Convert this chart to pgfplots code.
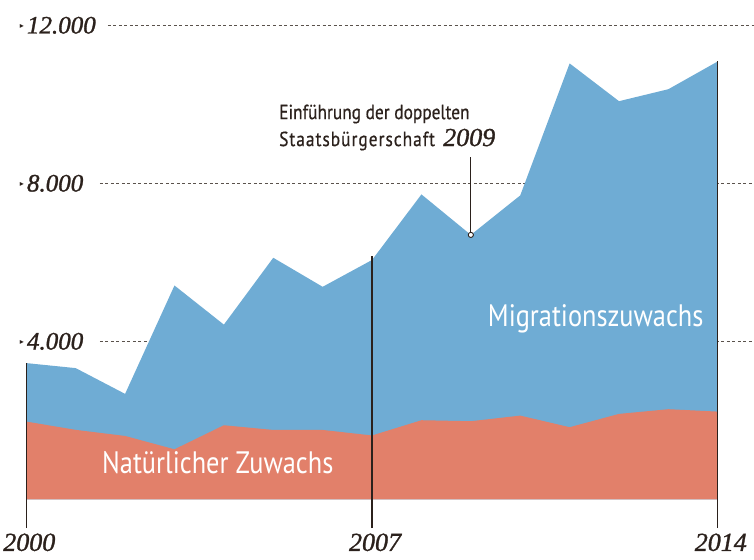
\documentclass[border=0pt]{standalone}
\usepackage{fontspec}
\usepackage{pgfplots}
\pgfplotsset{compat=1.18}
\usepackage{pgfplotstable}
\setmainfont{Liberation Serif}
\newfontfamily\labfont[FakeStretch=0.85]{PT Sans}
\newfontfamily\annfont[FakeStretch=0.85,FakeBold=0.6]{PT Sans}
\newfontfamily\annfontB[FakeStretch=0.85,FakeBold=0.6,LetterSpace=5]{PT Sans}
\newfontfamily\numfont[FakeBold=1.2]{Liberation Serif}
\newfontfamily\symfont{DejaVu Sans}
\definecolor{migblue}{RGB}{111,172,212}
\definecolor{natred}{RGB}{226,128,106}
\definecolor{txt}{RGB}{43,33,28}
\definecolor{gridc}{RGB}{90,82,76}
\newcommand{\tri}{{\symfont\fontsize{8}{8}\selectfont\raisebox{5pt}{▸}}\hspace{3pt}}

\pgfplotstableread{
year nat mig
2000 1970 1480
2001 1760 1563
2002 1606 1065
2003 1268 4146
2004 1877 2547
2005 1758 4358
2006 1758 3623
2007 1618 4442
2008 2004 5716
2009 1979 4716
2010 2121 5573
2011 1827 9208
2012 2164 7915
2013 2283 8100
2014 2222 8864
}\data

\begin{document}
\begin{tikzpicture}[x=1pt,y=1pt]
\path[use as bounding box] (0,0) rectangle (754,559);
\begin{axis}[
  at={(26.3pt,59.6pt)}, anchor=south west,
  scale only axis, width=727.7pt, height=474.1pt,
  xmin=2000, xmax=2014.733, ymin=0, ymax=12000,
  clip=false,
  scaled y ticks=false, scaled x ticks=false,
  axis line style={draw=none},
  major tick length=0pt,
  xtick={2000,2007,2014}, xticklabels={2000,2007,2014},
  ytick={4000,8000,12000}, yticklabels={{\tri4.000},{\tri8.000},{\tri12.000}},
  xticklabel style={font=\numfont\itshape\fontsize{26}{26}\selectfont, anchor=north, inner sep=0pt, yshift=-34pt, xshift=3pt, text=txt},
  yticklabel style={font=\numfont\itshape\fontsize{25}{25}\selectfont, anchor=west, inner sep=0pt, xshift=-6.5pt, text=txt},
]
% grid lines (behind areas)
\addplot[gridc, line width=1pt, dash pattern=on 3pt off 2.5pt, forget plot] coordinates {(2001.654,12000) (2014.733,12000)};
\addplot[gridc, line width=1pt, dash pattern=on 3pt off 2.5pt, forget plot] coordinates {(2001.49,8000) (2014.733,8000)};
\addplot[gridc, line width=1pt, dash pattern=on 3pt off 2.5pt, forget plot] coordinates {(2001.49,4000) (2014.733,4000)};
% total area (migration on top of natural)
\addplot[draw=none, fill=migblue] table[x=year, y expr=\thisrow{nat}+\thisrow{mig}] {\data} \closedcycle;
% natural growth area
\addplot[draw=none, fill=natred] table[x=year, y=nat] {\data} \closedcycle;
% vertical marker lines
\addplot[txt, line width=1.2pt] coordinates {(2000,-730) (2000,3450)};
\addplot[txt, line width=1.2pt] coordinates {(2007,-730) (2007,6150)};
\addplot[txt, line width=1.2pt] coordinates {(2014,-730) (2014,11086)};
% annotation leader
\addplot[txt, line width=1pt] coordinates {(2009,8660) (2009,6695)};
\addplot[only marks, mark=*, mark size=2.6pt, mark options={fill=white, draw=txt, line width=0.9pt}] coordinates {(2009,6695)};
% labels
\node[anchor=base west, inner sep=0pt, text=txt, font=\annfont\fontsize{20.4}{20.4}\selectfont] at (axis cs:2005.116,9626) {Einführung der doppelten};
\node[anchor=base west, inner sep=0pt, text=txt, font=\annfontB\fontsize{20.4}{20.4}\selectfont] at (axis cs:2005.116,8943) {Staatsbürgerschaft};
\node[anchor=base west, inner sep=0pt, text=txt, font=\numfont\itshape\fontsize{26}{26}\selectfont] at (axis cs:2008.437,8943) {2009};
\node[anchor=base west, inner sep=0pt, text=white, font=\labfont\fontsize{31}{31}\selectfont] at (axis cs:2009.342,4381) {Migrationszuwachs};
\node[anchor=base west, inner sep=0pt, text=white, font=\labfont\fontsize{31}{31}\selectfont] at (axis cs:2001.533,662) {Natürlicher Zuwachs};
\end{axis}
\end{tikzpicture}
\end{document}
